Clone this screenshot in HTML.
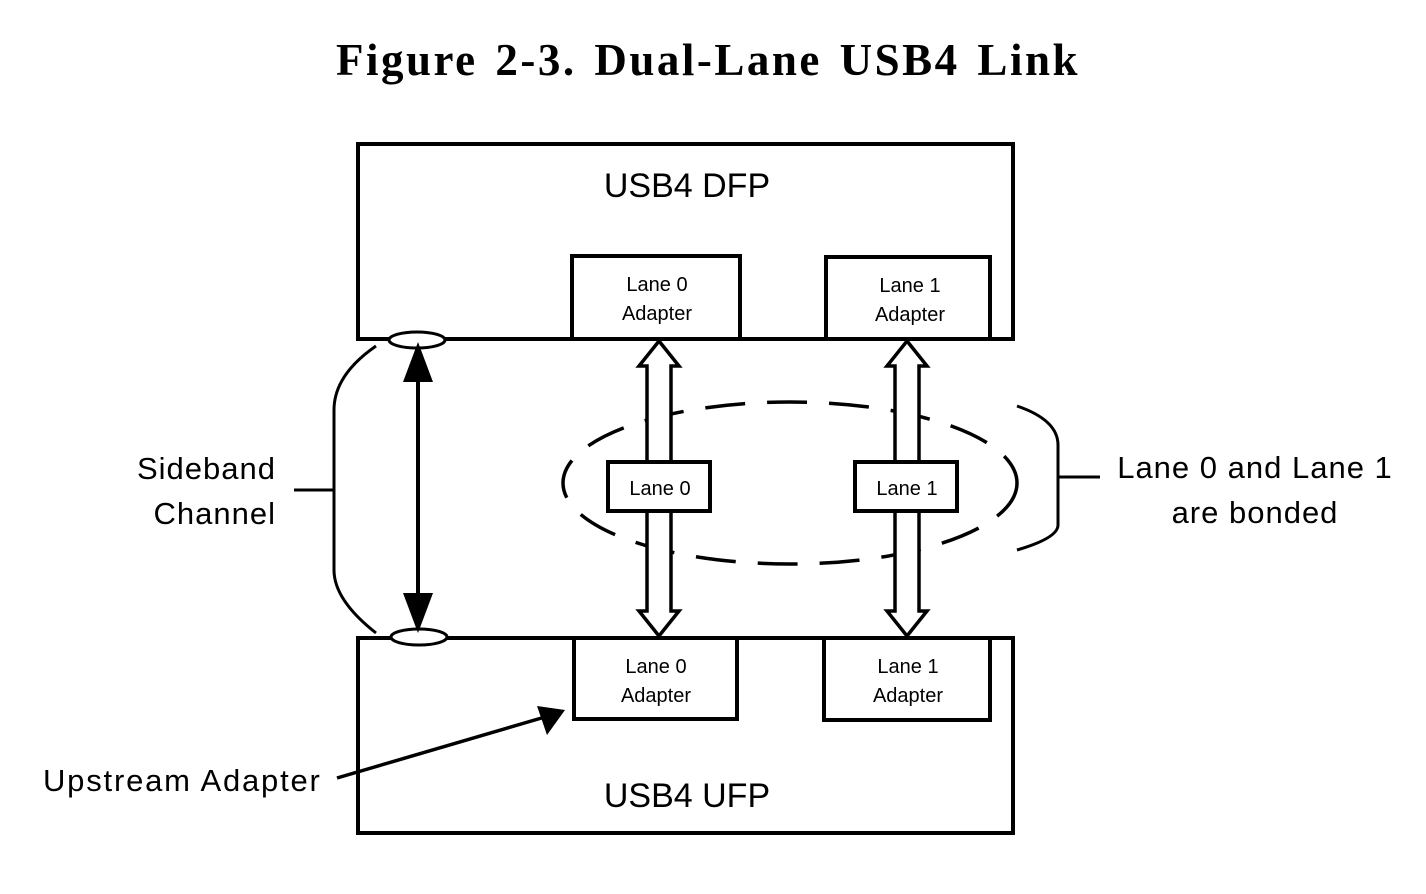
<!DOCTYPE html>
<html><head><style>
html,body{margin:0;padding:0;background:#fff;width:1426px;height:894px;overflow:hidden}
svg{display:block}
text{font-family:"Liberation Sans",sans-serif;fill:#000}
</style></head><body>
<svg width="1426" height="894" viewBox="0 0 1426 894" xmlns="http://www.w3.org/2000/svg">
<text x="708" y="75" text-anchor="middle" style="font-family:'Liberation Serif',serif;font-weight:bold;font-size:45px;letter-spacing:2.5px;word-spacing:4px">Figure 2-3.  Dual-Lane USB4 Link</text>
<g fill="none" stroke="#000" stroke-width="4">
<rect x="358" y="144" width="655" height="195" fill="#fff"/>
<rect x="358" y="638" width="655" height="195" fill="#fff"/>
<rect x="572" y="256" width="168" height="83"/>
<rect x="826" y="257" width="164" height="82"/>
<rect x="574" y="638" width="163" height="81"/>
<rect x="824" y="638" width="166" height="82"/>
<ellipse cx="790" cy="483" rx="227" ry="81" stroke-dasharray="40,22" stroke-width="3.5"/>
<path d="M1017 406 Q1058 420 1058 445 L1058 525 Q1058 538 1017 550" stroke-width="3"/>
<line x1="1058" y1="477" x2="1100" y2="477" stroke-width="3"/>
<path d="M376 346 Q334 375 334 410 L334 570 Q334 600 376 633" stroke-width="3"/>
<line x1="294" y1="490" x2="334" y2="490" stroke-width="3"/>
<path d="M659 341 L679 366 L671 366 L671 611 L679 611 L659 636 L639 611 L647 611 L647 366 L639 366 Z" fill="#fff" stroke-width="3.5"/>
<path d="M907 341 L927 366 L919 366 L919 611 L927 611 L907 636 L887 611 L895 611 L895 366 L887 366 Z" fill="#fff" stroke-width="3.5"/>
<line x1="418" y1="370" x2="418" y2="605" stroke-width="4"/>
<ellipse cx="417" cy="340" rx="28" ry="8" fill="#fff" stroke-width="3"/>
<ellipse cx="419" cy="637" rx="28" ry="8" fill="#fff" stroke-width="3"/>
<rect x="608" y="462" width="102" height="49" fill="#fff"/>
<rect x="855" y="462" width="102" height="49" fill="#fff"/>
<line x1="337" y1="778" x2="545" y2="717" stroke-width="3.5"/>
</g>
<polygon points="418,342 433,382 403,382" fill="#000"/>
<polygon points="418,633 433,593 403,593" fill="#000"/>
<polygon points="565,710 537,706 547,735" fill="#000"/>
<g font-size="34" text-anchor="middle">
<text x="687" y="197">USB4 DFP</text>
<text x="687" y="807">USB4 UFP</text>
</g>
<g font-size="20" text-anchor="middle">
<text x="657" y="291">Lane 0</text><text x="657" y="320">Adapter</text>
<text x="910" y="292">Lane 1</text><text x="910" y="321">Adapter</text>
<text x="656" y="673">Lane 0</text><text x="656" y="702">Adapter</text>
<text x="908" y="673">Lane 1</text><text x="908" y="702">Adapter</text>
<text x="660" y="495">Lane 0</text>
<text x="907" y="495">Lane 1</text>
</g>
<g font-size="31" style="letter-spacing:1px">
<text x="276" y="479" text-anchor="end">Sideband</text>
<text x="276" y="524" text-anchor="end">Channel</text>
<text x="1255" y="478" text-anchor="middle">Lane 0 and Lane 1</text>
<text x="1255" y="523" text-anchor="middle">are bonded</text>
<text x="43" y="791" style="letter-spacing:1.8px">Upstream Adapter</text>
</g>
</svg>
</body></html>
